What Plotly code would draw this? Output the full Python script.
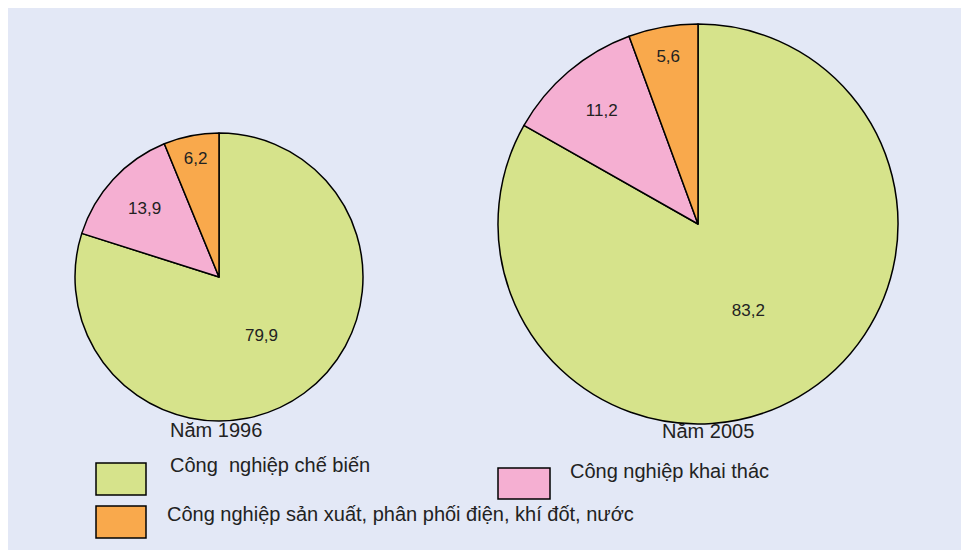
import plotly.graph_objects as go

categories = ["Công  nghiệp chế biến", "Công nghiệp khai thác",
              "Công nghiệp sản xuất, phân phối điện, khí đốt, nước"]
values_1996 = [79.9, 13.9, 6.2]
values_2005 = [83.2, 11.2, 5.6]
years = ["Năm 1996", "Năm 2005"]
colors = ["#d6e38b", "#f5afd2", "#f9a94c"]

W, H = 969, 550
FONT = "Liberation Sans, Arial, sans-serif"


def px(x0, x1):
    return [x0 / W, x1 / W]


def py(top, bottom):
    return [(H - bottom) / H, (H - top) / H]


fig = go.Figure()
for vals, dx, dy in [(values_1996, px(67, 355), py(125, 413)),
                     (values_2005, px(490, 890), py(16, 416))]:
    fig.add_trace(go.Pie(
        labels=categories, values=vals, sort=False, direction="clockwise",
        rotation=0, marker=dict(colors=colors, line=dict(color="black", width=1.5)),
        texttemplate="%{value:.1f}", textposition="inside",
        insidetextorientation="horizontal",
        textfont=dict(size=17, color="#222", family=FONT),
        showlegend=False, domain=dict(x=dx, y=dy),
        hoverinfo="label+value",
    ))

annotations = [
    dict(x=208 / W, y=1 - 435 / H, text=years[0]),
    dict(x=700 / W, y=1 - 436 / H, text=years[1]),
    dict(x=160 / W, y=1 - 470 / H, text=categories[0], xanchor="left"),
    dict(x=560 / W, y=1 - 476 / H, text=categories[1], xanchor="left"),
    dict(x=157 / W, y=1 - 519 / H, text=categories[2], xanchor="left"),
]
for a in annotations:
    a.update(xref="paper", yref="paper", showarrow=False,
             font=dict(size=20, color="#222", family=FONT))
    a.setdefault("xanchor", "center")

boxes = [(88, 455, 138, 487, colors[0]), (490, 460, 542, 491, colors[1]),
         (88, 498, 138, 530, colors[2])]
shapes = [dict(type="rect", xref="paper", yref="paper",
               x0=x0 / W, x1=x1 / W, y0=1 - y1 / H, y1=1 - y0 / H,
               fillcolor=c, line=dict(color="black", width=1.5))
          for x0, y0, x1, y1, c in boxes]

fig.update_layout(
    width=W, height=H, margin=dict(l=0, r=0, t=0, b=0),
    paper_bgcolor="#e3e8f6", plot_bgcolor="#e3e8f6",
    separators=",.", annotations=annotations, shapes=shapes,
)
fig.write_html("out.html")
